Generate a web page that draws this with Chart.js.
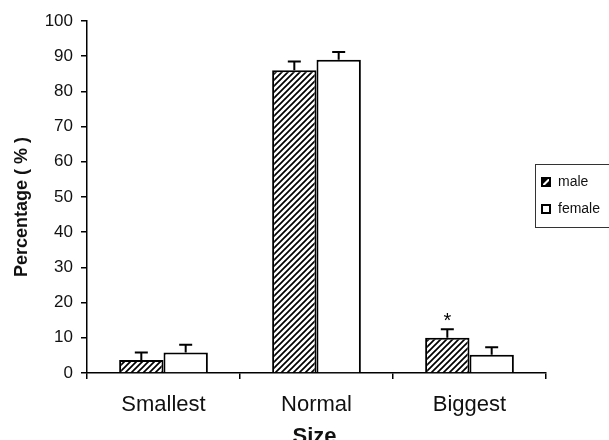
<!DOCTYPE html>
<html>
<head>
<meta charset="utf-8">
<script src="https://cdn.jsdelivr.net/npm/chart.js@4/dist/chart.umd.min.js"></script>
<style>
  html, body { margin: 0; padding: 0; background: #fff; }
  #wrap { width: 609px; height: 440px; }
</style>
</head>
<body>
<div id="wrap"><canvas id="barChart" width="609" height="440"></canvas></div>
<script>
var categories = ['Smallest', 'Normal', 'Biggest'];
var maleValues = [3.7, 86, 10];
var femaleValues = [5.8, 89, 5.2];
var maleErrors = [2.1, 2.5, 2.4];
var femaleErrors = [2.2, 2.2, 2.1];
var yTicks = [0, 10, 20, 30, 40, 50, 60, 70, 80, 90, 100];
var marks = ['', '', '*']; // significance marks over male bars
var xTitle = 'Size';
var yTitle = 'Percentage ( % )';

var FONT = 'Arial, "Liberation Sans", sans-serif';

function hatchPattern(ctx) {
    var tile = document.createElement('canvas');
    tile.width = 6;
    tile.height = 6;
    var t = tile.getContext('2d');
    t.fillStyle = '#fff';
    t.fillRect(0, 0, 6, 6);
    t.strokeStyle = '#000';
    t.lineWidth = 1.7;
    t.beginPath();
    t.moveTo(-1, 7); t.lineTo(7, -1);
    t.moveTo(-4, 4); t.lineTo(4, -4);
    t.moveTo(2, 10); t.lineTo(10, 2);
    t.stroke();
    return ctx.createPattern(tile, 'repeat');
}

// upward error bars with caps, plus the asterisk
var errorBars = {
    id: 'errorBars',
    afterDatasetsDraw: function (chart) {
        var ctx = chart.ctx;
        var yScale = chart.scales.y;
        var errs = [maleErrors, femaleErrors];
        ctx.save();
        ctx.strokeStyle = '#000';
        ctx.lineWidth = 2;
        chart.data.datasets.forEach(function (ds, i) {
            var meta = chart.getDatasetMeta(i);
            meta.data.forEach(function (bar, j) {
                var top = yScale.getPixelForValue(ds.data[j] + errs[i][j]);
                ctx.beginPath();
                ctx.moveTo(bar.x, bar.y);
                ctx.lineTo(bar.x, top);
                ctx.moveTo(bar.x - 6.5, top);
                ctx.lineTo(bar.x + 6.5, top);
                ctx.stroke();
                if (i === 0 && marks[j]) {
                    ctx.fillStyle = '#000';
                    ctx.font = '20px ' + FONT;
                    ctx.textAlign = 'center';
                    ctx.textBaseline = 'middle';
                    ctx.fillText(marks[j], bar.x, top - 8);
                }
            });
        });
        ctx.restore();
    }
};

// axis titles, placed like the original
var axisTitles = {
    id: 'axisTitles',
    afterDraw: function (chart) {
        var ctx = chart.ctx;
        var area = chart.chartArea;
        ctx.save();
        ctx.fillStyle = '#111';
        ctx.textAlign = 'center';
        ctx.textBaseline = 'alphabetic';
        ctx.font = 'bold 22px ' + FONT;
        ctx.fillText(xTitle, (area.left + area.right) / 2 - 2, 443);
        ctx.translate(27, 207);
        ctx.rotate(-Math.PI / 2);
        ctx.font = 'bold 18px ' + FONT;
        ctx.fillText(yTitle, 0, 0);
        ctx.restore();
    }
};

// boxed legend on the right, running off the edge like the original
var sideLegend = {
    id: 'sideLegend',
    afterDraw: function (chart) {
        var ctx = chart.ctx;
        ctx.save();
        ctx.strokeStyle = '#333';
        ctx.lineWidth = 1;
        ctx.strokeRect(535.5, 164.5, 100, 63);
        ctx.font = '14px ' + FONT;
        ctx.textBaseline = 'middle';
        chart.data.datasets.forEach(function (ds, i) {
            var cy = 182 + i * 27;
            ctx.fillStyle = '#fff';
            ctx.fillRect(542, cy - 4, 8, 8);
            if (i === 0) {
                ctx.fillStyle = '#000';
                ctx.beginPath();
                ctx.moveTo(542, cy - 4);
                ctx.lineTo(549, cy - 4);
                ctx.lineTo(542, cy + 3);
                ctx.closePath();
                ctx.fill();
                ctx.beginPath();
                ctx.moveTo(550, cy - 2);
                ctx.lineTo(550, cy + 4);
                ctx.lineTo(544, cy + 4);
                ctx.closePath();
                ctx.fill();
            }
            ctx.strokeStyle = '#000';
            ctx.lineWidth = 2;
            ctx.strokeRect(542, cy - 4, 8, 8);
            ctx.fillStyle = '#111';
            ctx.fillText(ds.label, 558, cy + 0.5);
        });
        ctx.restore();
    }
};

var ctx = document.getElementById('barChart').getContext('2d');
var chart = new Chart(ctx, {
    type: 'bar',
    data: {
        labels: categories,
        datasets: [{
            label: 'male',
            data: maleValues,
            backgroundColor: hatchPattern(ctx),
            borderColor: '#000',
            borderWidth: 2
        }, {
            label: 'female',
            data: femaleValues,
            backgroundColor: '#fff',
            borderColor: '#000',
            borderWidth: 2
        }]
    },
    options: {
        responsive: false,
        animation: false,
        events: [],
        layout: { padding: { left: 8, right: 63, top: 21, bottom: 0 } },
        categoryPercentage: 0.58,
        barPercentage: 1,
        plugins: {
            legend: { display: false },
            tooltip: { enabled: false }
        },
        scales: {
            x: {
                grid: { drawOnChartArea: false, color: '#000', tickLength: 6, lineWidth: 1.5 },
                border: { color: '#000', width: 1.5 },
                ticks: { color: '#111', font: { family: FONT, size: 22 }, padding: 13 },
                afterFit: function (scale) { scale.height = 67; }
            },
            y: {
                min: 0,
                max: 100,
                afterBuildTicks: function (scale) {
                    scale.ticks = yTicks.map(function (v) { return { value: v }; });
                },
                grid: { drawOnChartArea: false, color: '#000', tickLength: 6, lineWidth: 1.5 },
                border: { color: '#000', width: 1.5 },
                ticks: { color: '#111', font: { family: FONT, size: 17 }, padding: 8 },
                afterFit: function (scale) { scale.width = 79; }
            }
        }
    },
    plugins: [errorBars, axisTitles, sideLegend]
});
</script>
</body>
</html>
